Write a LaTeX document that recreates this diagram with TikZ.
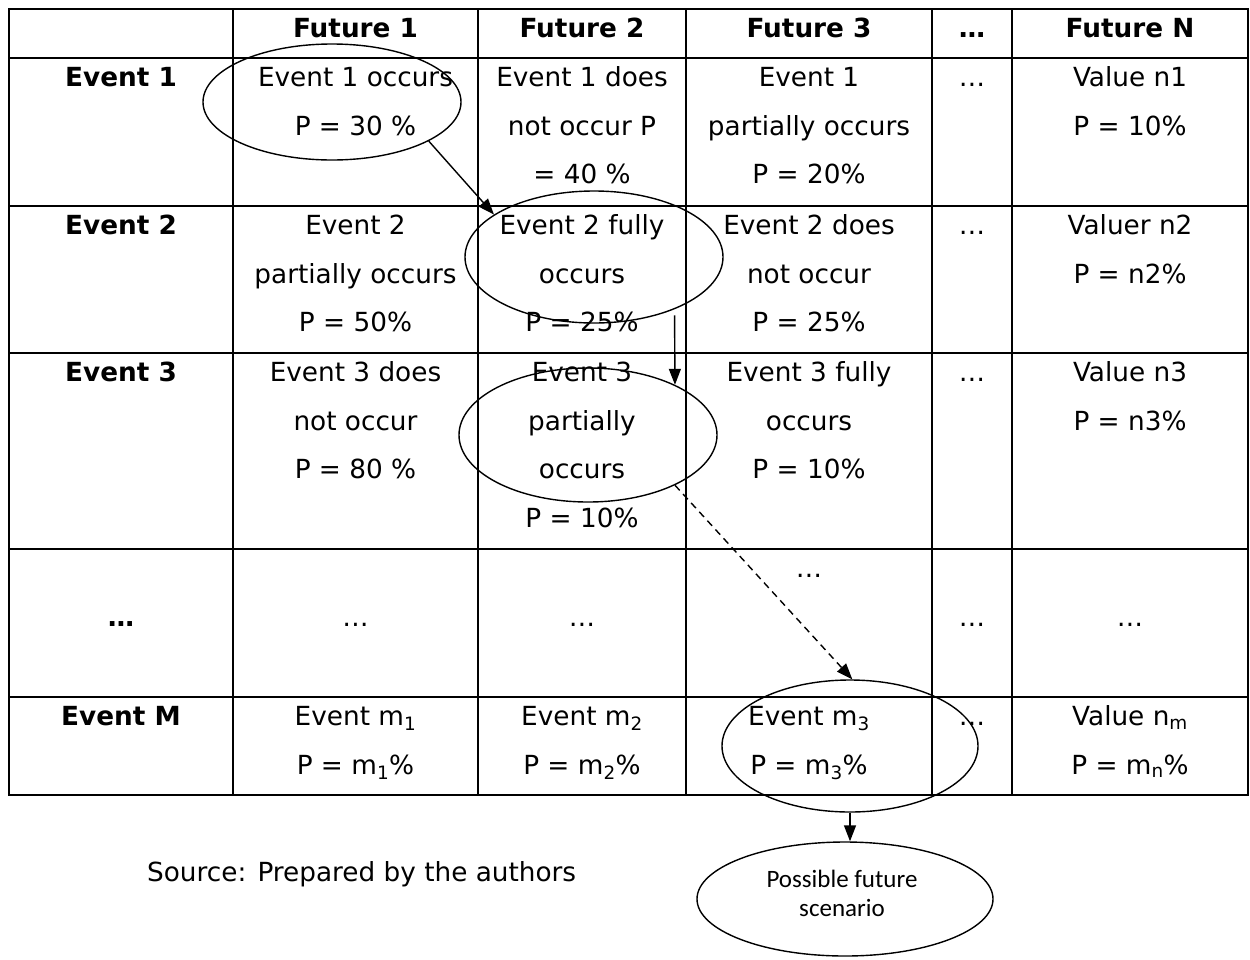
\documentclass[tikz,border=0pt]{standalone}
\usepackage{fontspec}
\setmainfont{DejaVu Sans}
\newfontfamily\calib{Carlito}
\usetikzlibrary{shapes.geometric,arrows.meta}
\newcommand\cs{\rule{0pt}{22pt}}
\newcommand\cellfont{\fontsize{26.3}{48.5}\selectfont}
\begin{document}
\begin{tikzpicture}[x=1pt,y=-1pt,
  tbl/.style={line width=1.8pt},
  cell/.style={anchor=north, inner sep=0pt, align=center, font=\cellfont},
  hcell/.style={cell, font=\cellfont\bfseries},
  ell/.style={ellipse, draw, line width=1.4pt, inner sep=0pt},
  arr/.style={line width=1.4pt, -{Triangle[length=16pt,width=12pt]}}]
\useasboundingbox (0,0) rectangle (1250,959);
% table grid
\draw[tbl] (9,9) rectangle (1248,795);
\foreach \yy in {58,206,353,549,697} \draw[tbl] (9,\yy) -- (1248,\yy);
\foreach \xx in {233,478,686,932,1012} \draw[tbl] (\xx,9) -- (\xx,795);
% header
\node[hcell] (h1) at (355.5,15.5) {\cs Future 1};
\node[hcell] (h2) at (582,15.5) {\cs Future 2};
\node[hcell] (h3) at (809,15.5) {\cs Future 3};
\node[hcell] (h4) at (972,15.5) {\cs …};
\node[hcell] (h5) at (1130,15.5) {\cs Future N};
% row 1
\node[hcell] (r1c0) at (121,64.5) {\cs Event 1};
\node[cell] (r1c1) at (355.5,64.5) {\cs Event 1 occurs\\P = 30 \%};
\node[cell] (r1c2) at (582,64.5) {\cs Event 1 does\\not occur P\\= 40 \%};
\node[cell] (r1c3) at (809,64.5) {\cs Event 1\\partially occurs\\P = 20\%};
\node[cell] (r1c4) at (972,64.5) {\cs …};
\node[cell] (r1c5) at (1130,64.5) {\cs Value n1\\P = 10\%};
% row 2
\node[hcell] (r2c0) at (121,212.5) {\cs Event 2};
\node[cell] (r2c1) at (355.5,212.5) {\cs Event 2\\partially occurs\\P = 50\%};
\node[cell] (r2c2) at (582,212.5) {\cs Event 2 fully\\occurs\\P = 25\%};
\node[cell] (r2c3) at (809,212.5) {\cs Event 2 does\\not occur\\P = 25\%};
\node[cell] (r2c4) at (972,212.5) {\cs …};
\node[cell] (r2c5) at (1130,212.5) {\cs Valuer n2\\P = n2\%};
% row 3
\node[hcell] (r3c0) at (121,359.5) {\cs Event 3};
\node[cell] (r3c1) at (355.5,359.5) {\cs Event 3 does\\not occur\\P = 80 \%};
\node[cell] (r3c2) at (582,359.5) {\cs Event 3\\partially\\occurs\\P = 10\%};
\node[cell] (r3c3) at (809,359.5) {\cs Event 3 fully\\occurs\\P = 10\%};
\node[cell] (r3c4) at (972,359.5) {\cs …};
\node[cell] (r3c5) at (1130,359.5) {\cs Value n3\\P = n3\%};
% row 4
\node[hcell] (r4c0) at (121,604) {\cs …};
\node[cell] (r4c1) at (355.5,604) {\cs …};
\node[cell] (r4c2) at (582,604) {\cs …};
\node[cell] (r4c3) at (809,555.5) {\cs …};
\node[cell] (r4c4) at (972,604) {\cs …};
\node[cell] (r4c5) at (1130,604) {\cs …};
% row M
\node[hcell] (rmc0) at (121,703.5) {\cs Event M};
\node[cell] (rmc1) at (355.5,703.5) {\cs Event m\textsubscript{1}\\P = m\textsubscript{1}\%};
\node[cell] (rmc2) at (582,703.5) {\cs Event m\textsubscript{2}\\P = m\textsubscript{2}\%};
\node[cell] (rmc3) at (809,703.5) {\cs Event m\textsubscript{3}\\P = m\textsubscript{3}\%};
\node[cell] (rmc4) at (972,703.5) {\cs …};
\node[cell] (rmc5) at (1130,703.5) {\cs Value n\textsubscript{m}\\P = m\textsubscript{n}\%};
% source
\node[anchor=base west, inner sep=0pt, font=\fontsize{26.3}{30}\selectfont] (src) at (147,881) {Source: Prepared by the authors};
% ellipses
\node[ell, minimum width=258pt, minimum height=116pt] (e1) at (332,102) {};
\node[ell, minimum width=258pt, minimum height=132pt] (e2) at (594,257) {};
\node[ell, minimum width=258pt, minimum height=134pt] (e3) at (588,435) {};
\node[ell, minimum width=256pt, minimum height=132pt] (em3) at (850,746) {};
\node[ell, minimum width=296pt, minimum height=114pt] (scen) at (845,899) {};
\node[align=center, inner sep=0pt, font=\calib\fontsize{25}{29}\selectfont] (scentext) at (842,893) {Possible future\\scenario};
% connectors
\draw[arr] (e1.-22) -- (e2.157);
\draw[arr, shorten <=6pt] (e2.-33.4) -- (e3.30.5);
\draw[arr, dash pattern=on 7pt off 5pt] (e3.-30.5) -- (em3.88);
\draw[arr] (em3.south) -- (em3.south |- scen.north);
\end{tikzpicture}
\end{document}
